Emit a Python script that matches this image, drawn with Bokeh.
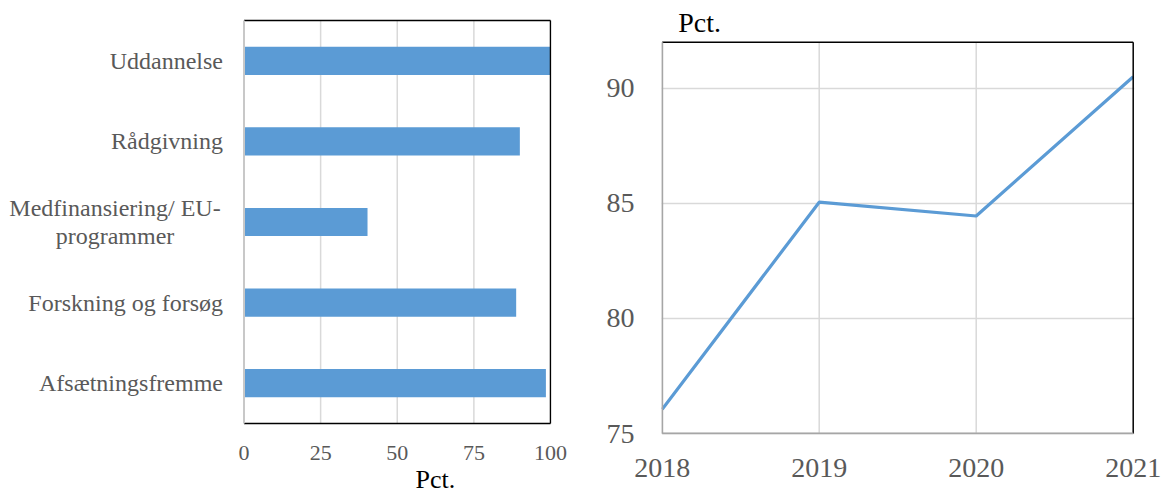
from bokeh.plotting import figure
from bokeh.layouts import row
from bokeh.models import Range1d, FixedTicker, Title
from bokeh.embed import file_html
from bokeh.resources import INLINE

# ---- data ----
categories = ["Uddannelse", "Rådgivning", "Medfinansiering/ EU-\nprogrammer",
              "Forskning og forsøg", "Afsætningsfremme"]
bar_values = [100, 90, 40.3, 88.8, 98.5]
x_ticks_left = [0, 25, 50, 75, 100]

years = [2018, 2019, 2020, 2021]
line_values = [76.05, 85.05, 84.45, 90.5]
y_ticks_right = [75, 80, 85, 90]

# ---- style ----
FONT = "Liberation Serif"
TICK_COLOR = "#595959"
BLUE = "#5b9bd5"
GRID = "#d9d9d9"
H = 495
TOP, BOTTOM = 10, 434          # shared frame top / bottom (px)

# ================= left: horizontal bars =================
W1, MBR1 = 575, 24
F1_W = W1 - MBR1
X0_PX, X100_PX = 243.5, 550.0
sx = (X100_PX - X0_PX) / 100.0
CAT_TOP, CAT_BOT = 20.0, 423.0
n = len(categories)
sy = (CAT_BOT - CAT_TOP) / n
x_start = -X0_PX / sx
x_end = 100 + (F1_W - X100_PX) / sx
y_start = -(BOTTOM - CAT_BOT) / sy
y_end = n + (CAT_TOP - TOP) / sy

ypos = [n - i - 0.5 for i in range(n)]

p1 = figure(width=W1, height=H, output_backend="svg", toolbar_location=None,
            x_range=Range1d(x_start, x_end), y_range=Range1d(y_start, y_end),
            y_axis_location=None,
            min_border_left=0, min_border_right=MBR1,
            min_border_top=TOP, min_border_bottom=H - BOTTOM)
p1.outline_line_color = None
p1.grid.grid_line_color = None

inner = [t for t in x_ticks_left if 0 < t < 100]
p1.segment(x0=inner, y0=[0] * len(inner), x1=inner, y1=[n] * len(inner),
           line_color=GRID, line_width=1.5)
p1.hbar(y=ypos, right=bar_values, left=0, height=0.35, color=BLUE, line_color=None)
# frame box
p1.segment(x0=[0, 0, 100], y0=[n, 0, 0], x1=[100, 100, 100], y1=[n, 0, n],
           line_color="black", line_width=1.5)
p1.segment(x0=[0], y0=[0], x1=[0], y1=[n], line_color="#c8c8c8", line_width=2)

# category labels
aligns = ["center" if "\n" in c else "right" for c in categories]
xoffs = [-(21 + 108) if "\n" in c else -21 for c in categories]
p1.text(x=[0] * n, y=ypos, text=categories, text_align=aligns, x_offset=xoffs,
        text_baseline="middle", text_font={"value": FONT}, text_font_size="24px",
        text_color=TICK_COLOR, text_line_height=1.1)

p1.xaxis.ticker = FixedTicker(ticks=x_ticks_left)
p1.xaxis.axis_line_color = None
p1.xaxis.major_tick_line_color = None
p1.xaxis.minor_tick_line_color = None
p1.xaxis.major_label_standoff = 5
p1.xaxis.major_label_text_font = FONT
p1.xaxis.major_label_text_font_size = "22px"
p1.xaxis.major_label_text_color = TICK_COLOR
p1.add_layout(Title(text="Pct.", align="left", offset=415, standoff=0,
                    text_font=FONT, text_font_size="26px", text_font_style="normal",
                    text_color="black"), "below")

# ================= right: line =================
W2 = 1162 - W1
MBL2, MBR2 = 86, 28
PX_L, PX_R = 661.7, 1132.7
PY_75, PY_92 = 433.0, 41.7
f2_left = W1 + MBL2
f2_right = W1 + W2 - MBR2
kx = (PX_R - PX_L) / (years[-1] - years[0])
ky = (PY_75 - PY_92) / 17.0
x2_start = years[0] - (PX_L - f2_left) / kx
x2_end = years[-1] + (f2_right - PX_R) / kx
y2_start = 75 - (BOTTOM - PY_75) / ky
y2_end = 92 + (PY_92 - TOP) / ky

p2 = figure(width=W2, height=H, output_backend="svg", toolbar_location=None,
            x_range=Range1d(x2_start, x2_end), y_range=Range1d(y2_start, y2_end),
            min_border_left=MBL2, min_border_right=MBR2,
            min_border_top=TOP, min_border_bottom=H - BOTTOM)
p2.outline_line_color = None
p2.xgrid.grid_line_color = None
p2.ygrid.grid_line_color = GRID
p2.ygrid.grid_line_width = 1.5

mid_years = years[1:-1]
p2.segment(x0=mid_years, y0=[75] * len(mid_years), x1=mid_years, y1=[92] * len(mid_years),
           line_color=GRID, line_width=1.5)
p2.line(years, line_values, line_color=BLUE, line_width=3.2)
p2.segment(x0=[2018, 2021], y0=[92, 75], x1=[2021, 2021], y1=[92, 92],
           line_color="black", line_width=1.5)
p2.segment(x0=[2018, 2018], y0=[75, 75], x1=[2018, 2021], y1=[92, 75],
           line_color="#a6a6a6", line_width=2)

p2.text(x=[years[0] + 16 / kx], y=[92 + (PY_92 - 22) / ky], text=["Pct."], text_align="left",
        text_baseline="middle", text_font={"value": FONT}, text_font_size="28px",
        text_color="black")

p2.xaxis.ticker = FixedTicker(ticks=years)
p2.yaxis.ticker = FixedTicker(ticks=y_ticks_right)
for ax in (p2.xaxis, p2.yaxis):
    ax.axis_line_color = None
    ax.major_tick_line_color = None
    ax.minor_tick_line_color = None
    ax.major_label_text_font = FONT
    ax.major_label_text_font_size = "28px"
    ax.major_label_text_color = TICK_COLOR
p2.xaxis.major_label_standoff = 18
p2.yaxis.major_label_standoff = 21

layout = row(p1, p2)
open("out.html", "w").write(file_html(layout, INLINE))
